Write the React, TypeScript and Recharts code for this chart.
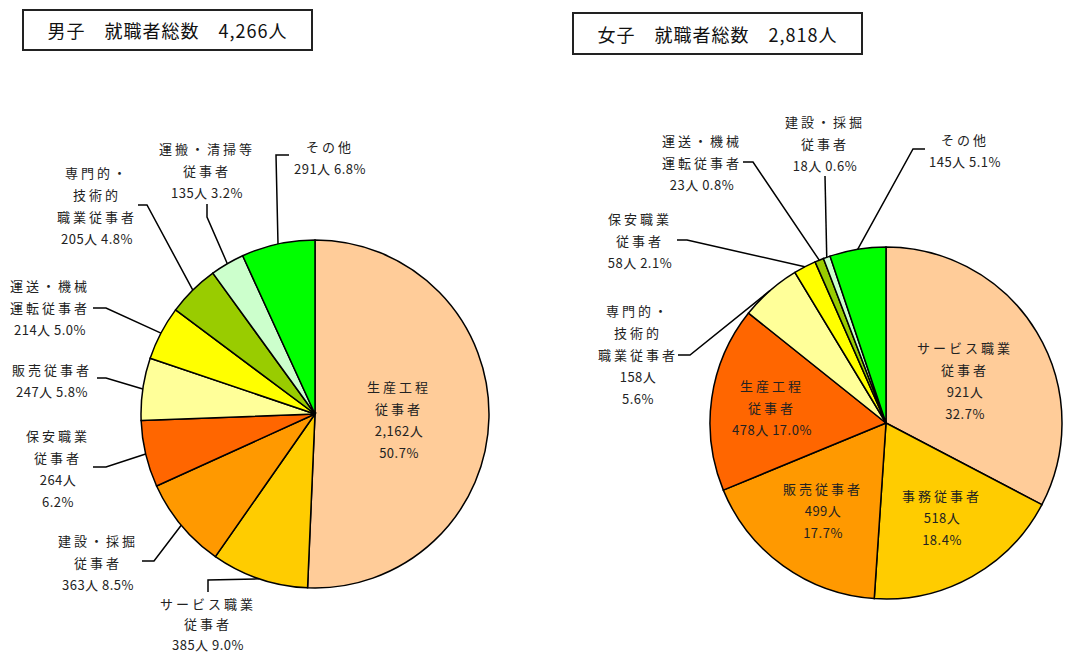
import { PieChart, Pie, Cell } from 'recharts';

// 男子
const maleNames = [
  '生産工程従事者',
  'サービス職業従事者',
  '建設・採掘従事者',
  '保安職業従事者',
  '販売従事者',
  '運送・機械運転従事者',
  '専門的・技術的職業従事者',
  '運搬・清掃等従事者',
  'その他',
];
const maleCounts = [2162, 385, 363, 264, 247, 214, 205, 135, 291];
const malePercents = ['50.7%', '9.0%', '8.5%', '6.2%', '5.8%', '5.0%', '4.8%', '3.2%', '6.8%'];
const maleNameLines = [
  ['生産工程', '従事者'],
  ['サービス職業', '従事者'],
  ['建設・採掘', '従事者'],
  ['保安職業', '従事者'],
  ['販売従事者'],
  ['運送・機械', '運転従事者'],
  ['専門的・', '技術的', '職業従事者'],
  ['運搬・清掃等', '従事者'],
  ['その他'],
];

// 女子
const femaleNames = [
  'サービス職業従事者',
  '事務従事者',
  '販売従事者',
  '生産工程従事者',
  '専門的・技術的職業従事者',
  '保安職業従事者',
  '運送・機械運転従事者',
  '建設・採掘従事者',
  'その他',
];
const femaleCounts = [921, 518, 499, 478, 158, 58, 23, 18, 145];
const femalePercents = ['32.7%', '18.4%', '17.7%', '17.0%', '5.6%', '2.1%', '0.8%', '0.6%', '5.1%'];
const femaleNameLines = [
  ['サービス職業', '従事者'],
  ['事務従事者'],
  ['販売従事者'],
  ['生産工程', '従事者'],
  ['専門的・', '技術的', '職業従事者'],
  ['保安職業', '従事者'],
  ['運送・機械', '運転従事者'],
  ['建設・採掘', '従事者'],
  ['その他'],
];

const COLORS = ['#FFCC99', '#FFCC00', '#FF9900', '#FF6600', '#FFFF99', '#FFFF00', '#99CC00', '#CCFFCC', '#00FF00'];

// label placement (text centre x, first line y, split count/percent, leader elbows)
type Place = { x: number; y: number; split: boolean; lead: number[][]; gap?: number };

const malePlaces: Place[] = [
  { x: 399, y: 386, split: true, lead: [] },
  { x: 208, y: 603, split: false, lead: [[208, 592], [208, 580]], gap: 20.5 },
  { x: 98, y: 540, split: false, lead: [[142, 561], [154, 561]] },
  { x: 58, y: 435, split: true, lead: [[93, 467], [106, 467]] },
  { x: 52, y: 369, split: false, lead: [[97, 378], [106, 378]] },
  { x: 50, y: 285, split: false, lead: [[93, 308], [106, 308]] },
  { x: 97, y: 172, split: false, lead: [[138, 205], [147, 205]] },
  { x: 207, y: 148, split: false, lead: [[207, 204], [207, 217]] },
  { x: 330, y: 146, split: false, lead: [[289, 155], [276, 155]] },
];

const femalePlaces: Place[] = [
  { x: 965, y: 347, split: true, lead: [] },
  { x: 942, y: 495, split: true, lead: [] },
  { x: 823, y: 488, split: true, lead: [] },
  { x: 772, y: 385, split: false, lead: [] },
  { x: 638, y: 310, split: true, lead: [[678, 355], [690, 355]] },
  { x: 640, y: 218, split: false, lead: [[677, 240], [687, 240]] },
  { x: 702, y: 140, split: false, lead: [[743, 162], [753, 162]] },
  { x: 825, y: 121, split: false, lead: [[825, 176]] },
  { x: 965, y: 139, split: false, lead: [[925, 149], [913, 149]] },
];

const maleData = maleNames.map((n, i) => ({ name: n, value: maleCounts[i] }));
const femaleData = femaleNames.map((n, i) => ({ name: n, value: femaleCounts[i] }));

const RAD = Math.PI / 180;
const FONT = '"Noto Sans CJK JP", "Noto Sans", sans-serif';

function makeLabel(nameLines: string[][], counts: number[], pcts: string[], places: Place[]) {
  return (p: any) => {
    const i = p.index;
    const pl = places[i];
    const cnt = counts[i].toLocaleString('en-US') + '人';
    const names = nameLines[i];
    const lines = pl.split ? [...names, cnt, pcts[i]] : [...names, cnt + ' ' + pcts[i]];
    const ex = p.cx + p.outerRadius * Math.cos(-p.midAngle * RAD);
    const ey = p.cy + p.outerRadius * Math.sin(-p.midAngle * RAD);
    const pts = pl.lead.length ? [...pl.lead, [ex, ey]] : [];
    const gap = pl.gap ?? 22;
    return (
      <g key={'lbl' + i}>
        {pts.length > 0 && (
          <polyline
            points={pts.map((q) => q.join(',')).join(' ')}
            fill="none"
            stroke="#000"
            strokeWidth={1.5}
          />
        )}
        <text textAnchor="middle" fill="#222" fontSize={13} fontFamily={FONT}>
          {lines.map((t, k) => (
            <tspan
              key={k}
              x={pl.x}
              y={pl.y + k * gap}
              dominantBaseline="central"
              letterSpacing={k < names.length ? 3 : 0.5}
            >
              {t}
            </tspan>
          ))}
        </text>
      </g>
    );
  };
}

const titleStyle = {
  position: 'absolute' as const,
  border: '2px solid #222',
  background: '#fff',
  boxSizing: 'border-box' as const,
  fontFamily: FONT,
  fontSize: 18,
  letterSpacing: 1,
  color: '#111',
  display: 'flex',
  alignItems: 'center',
  justifyContent: 'center',
  whiteSpace: 'pre' as const,
};

export default function App() {
  return (
    <div style={{ position: 'absolute', left: 0, top: 0, width: 1069, height: 652, background: '#fff' }}>
      <PieChart width={1069} height={652} margin={{ top: 0, right: 0, bottom: 0, left: 0 }}>
        <Pie
          data={maleData}
          dataKey="value"
          cx={315}
          cy={414}
          outerRadius={174}
          startAngle={90}
          endAngle={-270}
          stroke="#000"
          strokeWidth={1.5}
          labelLine={false}
          label={makeLabel(maleNameLines, maleCounts, malePercents, malePlaces)}
          isAnimationActive={false}
        >
          {maleData.map((_, i) => (
            <Cell key={i} fill={COLORS[i]} />
          ))}
        </Pie>
        <Pie
          data={femaleData}
          dataKey="value"
          cx={886}
          cy={423}
          outerRadius={176}
          startAngle={90}
          endAngle={-270}
          stroke="#000"
          strokeWidth={1.5}
          labelLine={false}
          label={makeLabel(femaleNameLines, femaleCounts, femalePercents, femalePlaces)}
          isAnimationActive={false}
        >
          {femaleData.map((_, i) => (
            <Cell key={i} fill={COLORS[i]} />
          ))}
        </Pie>
      </PieChart>
      <div style={{ ...titleStyle, left: 22, top: 9, width: 291, height: 42 }}>男子　就職者総数　4,266人</div>
      <div style={{ ...titleStyle, left: 572, top: 12, width: 291, height: 43 }}>女子　就職者総数　2,818人</div>
    </div>
  );
}
